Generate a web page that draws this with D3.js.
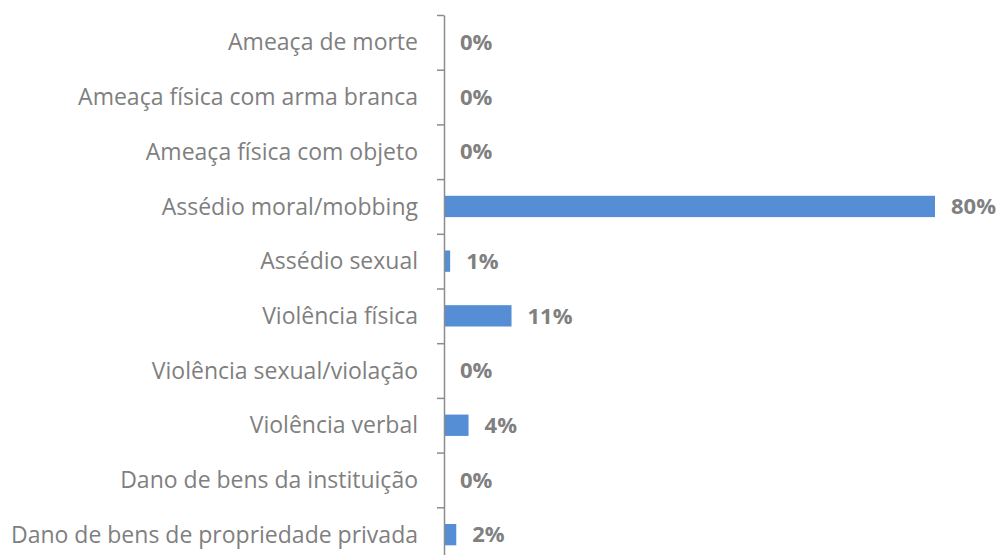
<!DOCTYPE html>
<html>
<head>
<meta charset="utf-8">
<script src="https://cdn.jsdelivr.net/npm/d3@7"></script>
<style>
  body { margin: 0; background: #fff; }
  svg { display: block; }
</style>
</head>
<body>
<div id="chart"></div>
<script>
var categories = [
    "Ameaça de morte",
    "Ameaça física com arma branca",
    "Ameaça física com objeto",
    "Assédio moral/mobbing",
    "Assédio sexual",
    "Violência física",
    "Violência sexual/violação",
    "Violência verbal",
    "Dano de bens da instituição",
    "Dano de bens de propriedade privada"
];
var values = [0, 0, 0, 80, 1, 11, 0, 4, 0, 2];
var valueLabels = ["0%", "0%", "0%", "80%", "1%", "11%", "0%", "4%", "0%", "2%"];

var svgWidth = 1001,
    svgHeight = 555;

var svg = d3.select("#chart").append("svg")
    .attr("width", svgWidth)
    .attr("height", svgHeight);

// horizontal scale: axis sits at x=444
var x = d3.scaleLinear()
    .domain([0, 80])
    .range([444, 935]);

// rows
var y = d3.scaleBand()
    .domain(categories)
    .range([15, 562])
    .paddingInner(0.61)
    .paddingOuter(0.305);

// tick positions at the row boundaries
var yTicks = d3.scaleLinear()
    .domain([0, categories.length])
    .range([15, 562]);

// Bars
svg.append("g")
    .selectAll("rect")
    .data(values)
    .enter()
    .append("rect")
    .attr("x", x(0))
    .attr("y", function(d, i) { return y(categories[i]); })
    .attr("width", function(d) { return x(d) - x(0); })
    .attr("height", y.bandwidth())
    .attr("fill", "#558ed5");

// Axis
var axisG = svg.append("g")
    .attr("transform", "translate(" + x(0) + ",0)")
    .call(d3.axisLeft(yTicks)
        .tickValues(d3.range(0, categories.length + 1))
        .tickFormat("")
        .tickSizeInner(7)
        .tickSizeOuter(0));
axisG.select(".domain").attr("stroke", "#8c8c8c").attr("stroke-width", 1.5);
axisG.selectAll(".tick line").attr("stroke", "#8c8c8c").attr("stroke-width", 1.5);

// Category labels
svg.append("g")
    .selectAll("text")
    .data(categories)
    .enter()
    .append("text")
    .attr("x", 418)
    .attr("y", function(d) { return y(d) + y.bandwidth() / 2; })
    .attr("dy", "0.35em")
    .attr("text-anchor", "end")
    .attr("font-family", "'Open Sans', sans-serif")
    .attr("font-size", "23px")
    .attr("fill", "#7f7f7f")
    .text(function(d) { return d; });

// Value labels
svg.append("g")
    .selectAll("text")
    .data(values)
    .enter()
    .append("text")
    .attr("x", function(d) { return x(d) + 16; })
    .attr("y", function(d, i) { return y(categories[i]) + y.bandwidth() / 2; })
    .attr("dy", "0.35em")
    .attr("font-family", "'Open Sans', sans-serif")
    .attr("font-weight", "bold")
    .attr("font-size", "22px")
    .attr("fill", "#808080")
    .text(function(d, i) { return valueLabels[i]; });
</script>
</body>
</html>
